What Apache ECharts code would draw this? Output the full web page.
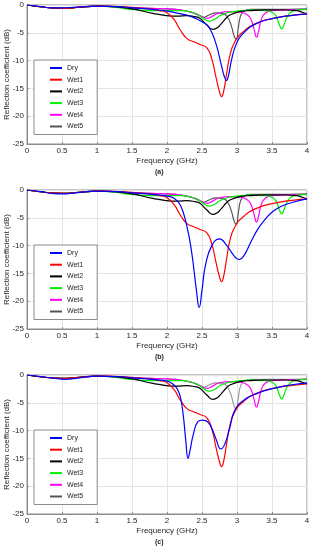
<!DOCTYPE html>
<html><head><meta charset="utf-8">
<script src="https://cdn.jsdelivr.net/npm/echarts@6/dist/echarts.min.js"></script>
<style>html,body{margin:0;padding:0;background:#fff}#c{width:314px;height:550px}</style>
</head><body><div id="c"></div>
<script>
// ---- data ----
var seriesNames = ['Dry', 'Wet1', 'Wet2', 'Wet3', 'Wet4', 'Wet5'];
var panelLabels = ['(a)', '(b)', '(c)'];
var xTicks = [0, 0.5, 1, 1.5, 2, 2.5, 3, 3.5, 4];
var yTicks = [0, -5, -10, -15, -20, -25];

var dryA_f  = [0,0.2,0.35,0.5,0.7,1.0,1.3,1.5,1.8,2.0,2.2,2.35,2.5,2.6,2.7,2.78,2.82,2.85,2.88,2.92,2.99,3.09,3.28,3.52,3.76,4.0];
var dryA_db = [0,-0.3,-0.5,-0.5,-0.4,-0.2,-0.3,-0.5,-0.8,-1.1,-1.6,-2.1,-3.0,-4.0,-7.0,-11.0,-12.9,-13.6,-12.6,-10.0,-7.0,-5.1,-3.3,-2.4,-1.9,-1.6];

var dryB_f  = [0,0.2,0.35,0.5,0.7,1.0,1.3,1.5,1.8,2.0,2.1,2.19,2.28,2.35,2.42,2.46,2.5,2.55,2.64,2.75,2.85,2.95,3.03,3.1,3.2,3.3,3.42,3.5,3.62,3.8,4.0];
var dryB_db = [0,-0.3,-0.6,-0.7,-0.5,-0.2,-0.3,-0.5,-0.8,-1.1,-1.5,-2.7,-6.3,-11.0,-18.0,-21.1,-18.0,-13.5,-10.0,-8.8,-9.9,-11.7,-12.5,-11.8,-9.3,-7.0,-5.0,-4.0,-3.0,-2.2,-1.6];

var dryC_f  = [0,0.2,0.35,0.55,0.75,1.0,1.3,1.5,1.8,2.0,2.1,2.15,2.19,2.23,2.27,2.3,2.33,2.37,2.44,2.51,2.58,2.64,2.7,2.77,2.83,2.9,2.97,3.1,3.29,3.52,3.76,4.0];
var dryC_db = [0,-0.3,-0.5,-0.8,-0.5,-0.2,-0.3,-0.5,-0.8,-1.1,-1.8,-2.6,-3.9,-7.0,-12.0,-15.0,-13.5,-11.0,-8.4,-8.1,-8.4,-9.6,-11.5,-13.3,-12.3,-9.3,-6.3,-4.5,-3.3,-2.4,-1.8,-1.4];

var wet1_f  = [0,0.25,0.5,0.75,1.0,1.25,1.5,1.75,1.9,2.0,2.1,2.19,2.29,2.38,2.47,2.57,2.64,2.7,2.75,2.78,2.81,2.85,2.9,2.97,3.09,3.28,3.52,3.76,4.0];
var wet1_db = [0,-0.4,-0.6,-0.4,-0.2,-0.25,-0.4,-0.7,-1.0,-1.4,-2.6,-4.5,-6.1,-6.6,-7.1,-7.7,-9.7,-13.0,-15.6,-16.5,-15.5,-12.5,-9.0,-6.6,-4.8,-3.3,-2.4,-1.9,-1.6];

var wet2_f  = [0,0.25,0.5,0.75,1.0,1.25,1.5,1.8,1.99,2.15,2.28,2.4,2.47,2.57,2.66,2.72,2.78,2.85,2.9,3.04,3.2,3.4,3.7,3.85,3.93,4.0];
var wet2_db = [0,-0.4,-0.6,-0.4,-0.2,-0.3,-0.7,-1.5,-1.9,-2.0,-1.9,-2.1,-2.4,-3.6,-4.4,-4.1,-3.3,-2.3,-1.8,-1.2,-1.0,-0.9,-0.9,-1.0,-1.3,-1.6];

var wet3_f  = [0,0.25,0.5,0.75,1.0,1.25,1.5,1.75,2.0,2.2,2.35,2.45,2.53,2.61,2.68,2.76,2.86,3.0,3.2,3.4,3.5,3.56,3.6,3.64,3.67,3.71,3.77,3.86,4.0];
var wet3_db = [0,-0.4,-0.6,-0.4,-0.2,-0.4,-0.8,-1.0,-1.0,-1.0,-1.3,-1.8,-2.5,-2.9,-2.6,-1.9,-1.4,-1.1,-0.9,-1.0,-1.3,-2.0,-3.4,-4.3,-3.6,-2.3,-1.3,-0.9,-0.8];

var wet4_f  = [0,0.25,0.5,0.75,1.0,1.25,1.5,1.75,2.0,2.2,2.35,2.45,2.52,2.58,2.65,2.75,2.9,3.05,3.15,3.2,3.24,3.28,3.31,3.35,3.41,3.5,3.7,4.0];
var wet4_db = [0,-0.4,-0.6,-0.4,-0.2,-0.3,-0.5,-0.6,-0.7,-0.9,-1.3,-1.8,-2.2,-2.4,-2.0,-1.4,-1.2,-1.3,-1.8,-2.6,-4.2,-5.8,-4.6,-2.5,-1.4,-1.0,-0.9,-0.8];

var wet5_f  = [0,0.25,0.5,0.75,1.0,1.25,1.5,1.75,2.0,2.2,2.35,2.45,2.52,2.6,2.7,2.8,2.87,2.92,2.96,2.99,3.02,3.05,3.1,3.2,3.5,4.0];
var wet5_db = [0,-0.4,-0.6,-0.4,-0.2,-0.3,-0.5,-0.6,-0.7,-0.9,-1.3,-1.8,-2.2,-1.8,-1.4,-1.5,-2.3,-3.8,-5.6,-6.2,-4.0,-2.0,-1.1,-0.8,-0.8,-0.7];

// ---- build ----
function pairs(f, d) { return f.map(function (v, i) { return [v, d[i]]; }); }
var dryF = [dryA_f, dryB_f, dryC_f];
var dryD = [dryA_db, dryB_db, dryC_db];
var wetF = [wet1_f, wet2_f, wet3_f, wet4_f, wet5_f];
var wetD = [wet1_db, wet2_db, wet3_db, wet4_db, wet5_db];
var colorsAB = ['#0000ff', '#ff0000', '#000000', '#00ee00', '#ff00ff', '#555555'];
var colorsC  = ['#0000ff', '#ff0000', '#000000', '#00ee00', '#ff00ff', '#999999'];
var tops = [5, 190, 375];
var gh = 139;
var font = 'Liberation Sans, Arial, sans-serif';

var grids = [], xAxes = [], yAxes = [], series = [], legends = [], graphics = [];
for (var p = 0; p < 3; p++) {
  grids.push({ left: 27, top: tops[p], width: 280, height: gh, containLabel: false, outerBoundsMode: 'none',
    show: true, borderColor: '#8c8c8c', borderWidth: 1, backgroundColor: '#fff' });
  xAxes.push({
    type: 'value', gridIndex: p, min: xTicks[0], max: xTicks[xTicks.length - 1], interval: 0.5,
    name: 'Frequency (GHz)', nameLocation: 'middle', nameGap: 13,
    nameTextStyle: { fontFamily: font, fontSize: 8, color: '#262626' },
    axisLine: { show: true, onZero: false, lineStyle: { color: '#8c8c8c', width: 1 } },
    axisTick: { show: true, inside: true, length: 2, lineStyle: { color: '#8c8c8c' } },
    axisLabel: { fontFamily: font, fontSize: 8, color: '#262626', margin: 3, hideOverlap: false,
      formatter: function (v) { return String(v); } },
    splitLine: { show: true, lineStyle: { color: '#e4e4e4', width: 1 } }
  });
  yAxes.push({
    type: 'value', gridIndex: p, min: yTicks[yTicks.length - 1], max: yTicks[0], interval: 5,
    name: 'Reflection coefficient (dB)', nameLocation: 'middle', nameGap: 16, nameMoveOverlap: false,
    nameTextStyle: { fontFamily: font, fontSize: 8, color: '#262626' },
    axisLine: { show: true, onZero: false, lineStyle: { color: '#8c8c8c', width: 1 } },
    axisTick: { show: true, inside: true, length: 2, lineStyle: { color: '#8c8c8c' } },
    axisLabel: { fontFamily: font, fontSize: 8, color: '#262626', margin: 3, hideOverlap: false },
    splitLine: { show: true, lineStyle: { color: '#e4e4e4', width: 1 } }
  });
  var cols = p === 2 ? colorsC : colorsAB;
  for (var s = 0; s < 6; s++) {
    var data = s === 0 ? pairs(dryF[p], dryD[p]) : pairs(wetF[s - 1], wetD[s - 1]);
    series.push({
      name: seriesNames[s], type: 'line', xAxisIndex: p, yAxisIndex: p,
      data: data, showSymbol: false, symbol: 'none', smooth: 0.5,
      lineStyle: { color: cols[s], width: 1.2 }, itemStyle: { color: cols[s] },
      z: 10 - s, animation: false
    });
  }
  legends.push({
    orient: 'vertical', left: 34, top: tops[p] + 55,
    data: seriesNames, icon: 'rect', itemWidth: 12, itemHeight: 2, itemGap: 1.7,
    padding: [3, 14, 3, 16], borderColor: '#8c8c8c', borderWidth: 1, backgroundColor: '#fff',
    selectedMode: false, inactiveColor: '#000',
    textStyle: { fontFamily: font, fontSize: 7, color: '#262626', lineHeight: 10 },
    formatter: function (n) { return n; }
  });
  graphics.push({
    type: 'text', left: 155, top: tops[p] + 164,
    style: { text: panelLabels[p], font: 'bold 7px ' + font, fill: '#262626' }
  });
}

var chart = echarts.init(document.getElementById('c'), null, { renderer: 'canvas' });
chart.setOption({
  animation: false,
  grid: grids, xAxis: xAxes, yAxis: yAxes, series: series,
  legend: legends, graphic: graphics
});
</script>
</body></html>
